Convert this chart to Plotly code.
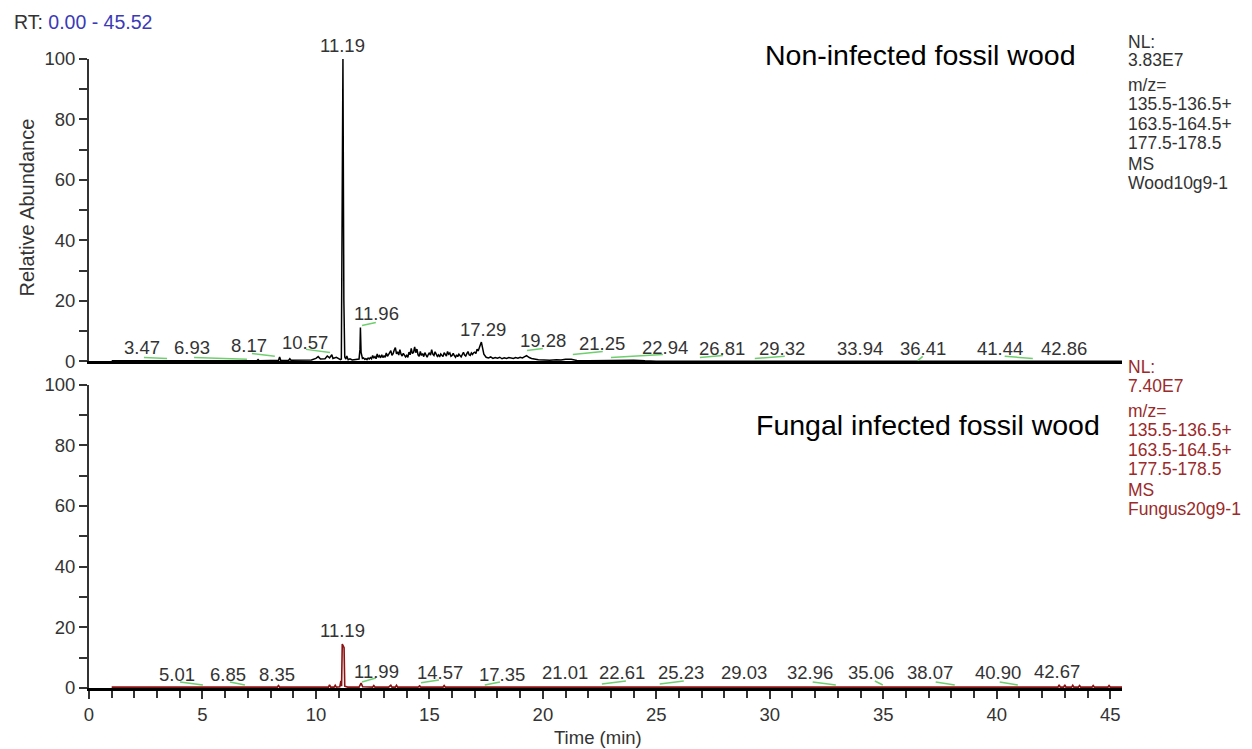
import plotly.graph_objects as go

# ---------------- data ----------------
# Non-infected fossil wood chromatogram (time in min, relative abundance %)
top_t = [1.0, 2.0, 3.0, 4.0, 5.0, 6.0, 7.0, 7.4, 7.45, 7.5,
         8.0, 8.35, 8.4, 8.45, 8.8, 8.85, 8.9, 9.2, 9.5, 9.8,
         10.0, 10.1, 10.2, 10.4, 10.5, 10.6, 10.7, 10.75, 10.9, 11.0,
         11.08, 11.12, 11.16, 11.19, 11.23, 11.27, 11.32, 11.36, 11.42, 11.5,
         11.6, 11.7, 11.8, 11.9, 11.94, 11.96, 11.99, 12.05,
         12.10, 12.15, 12.20, 12.25, 12.30, 12.35, 12.40, 12.45, 12.50, 12.55,
         12.60, 12.65, 12.70, 12.75, 12.80, 12.85, 12.90, 12.95, 13.00, 13.05,
         13.10, 13.15, 13.20, 13.25, 13.30, 13.35, 13.40, 13.45, 13.50, 13.55,
         13.60, 13.65, 13.70, 13.75, 13.80, 13.85, 13.90, 13.95, 14.00, 14.05,
         14.10, 14.15, 14.20, 14.25, 14.30, 14.35, 14.40, 14.45, 14.50, 14.55,
         14.60, 14.65, 14.70, 14.75, 14.80, 14.85, 14.90, 14.95, 15.00, 15.05,
         15.10, 15.15, 15.20, 15.25, 15.30, 15.35, 15.40, 15.45, 15.50, 15.55,
         15.60, 15.65, 15.70, 15.75, 15.80, 15.85, 15.90, 15.95, 16.00, 16.05,
         16.10, 16.15, 16.20, 16.25, 16.30, 16.35, 16.40, 16.45, 16.50, 16.55,
         16.60, 16.65, 16.70, 16.75, 16.80, 16.85, 16.90, 16.95, 17.00, 17.05,
         17.10, 17.15, 17.20, 17.25, 17.29, 17.35, 17.40,
         17.5, 17.6, 17.7, 17.8, 17.9, 18.0, 18.1, 18.2, 18.3, 18.4,
         18.5, 18.6, 18.7, 18.8, 18.9, 19.0, 19.1, 19.2, 19.28, 19.4,
         19.5, 19.8, 20.0, 20.3, 20.6, 20.8, 21.0, 21.25, 21.5, 22.0,
         23.0, 24.0, 24.5, 25.0, 30.0, 35.0, 40.0, 45.52]
top_a = [0.2, 0.2, 0.2, 0.2, 0.2, 0.2, 0.2, 0.2, 0.6, 0.2,
         0.3, 0.3, 1.5, 0.3, 0.4, 0.9, 0.4, 0.5, 0.6, 0.5,
         1.0, 1.6, 0.8, 0.9, 1.8, 1.2, 2.2, 1.0, 1.4, 0.9,
         0.6, 0.8, 60.0, 100.0, 20.5, 1.5, 0.8, 1.8, 0.6, 0.9,
         0.5, 0.6, 0.5, 0.8, 4.0, 11.2, 3.0, 1.0,
         1.2, 0.7, 0.9, 0.6, 1.1, 0.8, 1.3, 0.9, 2.0, 1.1,
         1.6, 0.9, 2.5, 1.4, 1.9, 1.2, 2.2, 1.3, 1.8, 1.4,
         2.8, 1.7, 2.3, 3.2, 3.6, 2.0, 2.6, 3.8, 4.6, 2.5,
         3.2, 2.1, 3.9, 2.4, 1.8, 2.7, 2.2, 1.5, 2.0, 1.4,
         3.1, 2.2, 4.3, 2.6, 3.0, 4.8, 2.9, 4.1, 2.2, 1.7,
         3.3, 2.0, 2.6, 1.6, 2.9, 1.8, 1.4, 2.3, 2.9, 2.1,
         3.9, 2.4, 2.0, 3.2, 2.6, 1.7, 2.2, 1.5, 2.5, 1.9,
         1.6, 2.9, 2.3, 1.8, 3.3, 2.4, 2.8, 1.7, 2.0, 2.7,
         1.9, 1.4, 2.2, 1.6, 2.4, 1.9, 1.5, 2.3, 3.0, 2.1,
         1.8, 2.6, 3.3, 2.2, 2.0, 2.8, 2.3, 2.9, 3.1, 2.6,
         4.1, 3.5, 4.9, 5.6, 6.4, 4.2, 2.4,
         1.4, 1.2, 1.5, 1.0, 1.3, 1.1, 1.4, 0.9, 1.2, 1.0,
         1.3, 1.2, 1.0, 1.3, 1.1, 1.4, 1.2, 1.6, 1.9, 1.3,
         1.0, 0.6, 0.5, 0.4, 0.6, 0.5, 0.7, 0.7, 0.3, 0.2,
         0.3, 0.4, 0.2, 0.1, 0.1, 0.1, 0.1, 0.1]

# Fungal infected fossil wood chromatogram
bot_t = [1.0, 3.0, 5.0, 7.0, 8.3, 8.35, 8.4, 10.0, 10.55, 10.6,
         10.65, 10.8, 10.85, 10.9, 11.05, 11.1, 11.13, 11.16, 11.2, 11.24,
         11.27, 11.4, 11.9, 11.99, 12.06, 12.5, 12.55, 12.6, 13.2, 13.3,
         13.35, 13.5, 13.55, 13.6, 14.5, 14.57, 14.62, 15.6, 15.65, 15.7,
         16.0, 20.0, 25.0, 30.0, 35.0, 40.0, 42.7, 42.75, 42.8, 42.95,
         43.0, 43.05, 43.3, 43.35, 43.4, 43.6, 43.65, 43.7, 44.2, 44.25,
         44.3, 44.9, 44.95, 45.0, 45.52]
bot_a = [0.3, 0.3, 0.3, 0.3, 0.3, 0.8, 0.3, 0.3, 0.3, 1.0,
         0.3, 0.3, 0.9, 0.3, 0.4, 2.3, 0.6, 14.5, 14.0, 13.3,
         0.6, 0.3, 0.3, 1.6, 0.4, 0.3, 0.8, 0.3, 0.3, 0.9,
         0.3, 0.3, 0.9, 0.3, 0.3, 0.7, 0.3, 0.3, 0.8, 0.3,
         0.3, 0.3, 0.3, 0.3, 0.3, 0.3, 0.3, 1.0, 0.3, 0.3,
         1.0, 0.3, 0.3, 0.9, 0.3, 0.3, 0.8, 0.3, 0.3, 0.8,
         0.3, 0.3, 0.8, 0.3, 0.3]

# peak labels (text, label centre time, label centre abundance)
top_labels = ["3.47", "6.93", "8.17", "10.57", "11.19", "11.96", "17.29", "19.28",
              "21.25", "22.94", "26.81", "29.32", "33.94", "36.41", "41.44", "42.86"]
top_label_t = [2.33, 4.54, 7.05, 9.52, 11.19, 12.69, 17.36, 20.0,
               22.6, 25.37, 27.89, 30.53, 33.96, 36.74, 40.13, 42.95]
top_label_a = [4.6, 4.6, 5.3, 6.3, 104.6, 15.9, 10.6, 7.0,
               6.0, 4.6, 4.3, 4.3, 4.3, 4.3, 4.3, 4.3]

bot_labels = ["5.01", "6.85", "8.35", "11.19", "11.99", "14.57", "17.35", "21.01",
              "22.61", "25.23", "29.03", "32.96", "35.06", "38.07", "40.90", "42.67"]
bot_label_t = [3.88, 6.12, 8.28, 11.19, 12.69, 15.46, 18.19, 20.97,
               23.48, 26.08, 28.85, 31.76, 34.45, 37.05, 40.04, 42.64]
bot_label_a = [4.6, 4.6, 4.6, 18.8, 5.6, 5.0, 4.6, 5.0,
               5.0, 5.0, 5.0, 5.0, 5.0, 5.0, 5.0, 5.3]

# integration baseline marks (green segments): start/end time and level
top_seg_t0 = [2.42, 4.63, 7.18, 9.56, 12.03, 19.30, 21.32, 23.00, 26.92, 29.34, 36.52, 40.35]
top_seg_t1 = [3.44, 6.96, 8.19, 10.62, 12.64, 20.00, 22.64, 25.29, 27.93, 30.66, 36.74, 41.59]
top_seg_a0 = [1.3, 1.3, 2.6, 4.0, 11.9, 3.6, 2.3, 1.3, 1.3, 1.0, 0.3, 1.7]
top_seg_a1 = [1.0, 0.7, 1.7, 3.0, 12.9, 4.3, 3.3, 2.3, 2.0, 1.7, 1.7, 1.0]

bot_seg_t0 = [4.01, 6.21, 12.03, 14.63, 17.44, 22.60, 25.15, 31.89, 34.63, 37.31, 40.13]
bot_seg_t1 = [5.02, 6.87, 12.64, 15.42, 18.11, 23.66, 26.21, 32.91, 34.98, 38.15, 40.93]
bot_seg_a0 = [2.0, 2.0, 2.0, 1.7, 1.0, 1.3, 1.3, 2.0, 2.3, 2.0, 2.0]
bot_seg_a1 = [1.0, 1.0, 3.3, 2.6, 2.0, 2.3, 2.3, 1.0, 1.0, 1.0, 1.0]

top_info = ["NL:", "3.83E7", "m/z=", "135.5-136.5+", "163.5-164.5+", "177.5-178.5", "MS", "Wood10g9-1"]
bot_info = ["NL:", "7.40E7", "m/z=", "135.5-136.5+", "163.5-164.5+", "177.5-178.5", "MS", "Fungus20g9-1"]

X_MAX = 45.52

# ---------------- figure ----------------
W, H = 1252, 749
ML, MR, MT, MB = 81, 138, 51, 69
PW, PH = W - ML - MR, H - MT - MB
FONT = "Liberation Sans, Arial, sans-serif"
GREY = "#333333"
RED = "#9b2a2a"


def ax(x):  # reference pixel -> page pixel
    return x - 8.5


def ay(y):
    return y - 8.5 + 0.0027 * y


def px(p):
    return (p - ML) / PW


def py(p):
    return (H - MB - p) / PH


top_dom = [py(ay(361)), 1.0]
bot_dom = [0.0, py(ay(384))]


def segs(t0, t1, a0, a1):
    xs, ys = [], []
    for i in range(len(t0)):
        xs += [t0[i], t1[i], None]
        ys += [a0[i], a1[i], None]
    return xs, ys


fig = go.Figure()
fig.add_trace(go.Scatter(x=top_t, y=top_a, mode="lines", line=dict(color="black", width=1.5),
                         xaxis="x", yaxis="y", showlegend=False))
fig.add_trace(go.Scatter(x=bot_t, y=bot_a, mode="lines", line=dict(color="#8b1212", width=1.6),
                         xaxis="x2", yaxis="y2", showlegend=False))
sx, sy = segs(top_seg_t0, top_seg_t1, top_seg_a0, top_seg_a1)
fig.add_trace(go.Scatter(x=sx, y=sy, mode="lines", line=dict(color="#6fcf6f", width=1.5),
                         xaxis="x", yaxis="y", showlegend=False))
sx, sy = segs(bot_seg_t0, bot_seg_t1, bot_seg_a0, bot_seg_a1)
fig.add_trace(go.Scatter(x=sx, y=sy, mode="lines", line=dict(color="#6fcf6f", width=1.5),
                         xaxis="x2", yaxis="y2", showlegend=False))

ann = []
lab_font = dict(size=18.5, color=GREY, family=FONT)
for labels, ts, avals, dom in ((top_labels, top_label_t, top_label_a, top_dom),
                               (bot_labels, bot_label_t, bot_label_a, bot_dom)):
    for txt, t, a in zip(labels, ts, avals):
        ann.append(dict(text=txt, x=t / X_MAX, y=dom[0] + (dom[1] - dom[0]) * a / 100.0,
                        xref="paper", yref="paper", showarrow=False,
                        xanchor="center", yanchor="middle", font=lab_font))

offs = [0, 18, 43, 62, 82, 101, 122, 141]
for txt, o in zip(top_info, offs):
    ann.append(dict(text=txt, x=px(ax(1126)), y=py(ay(42 + o)), xref="paper", yref="paper",
                    showarrow=False, xanchor="left", yanchor="middle",
                    font=dict(size=17.5, color=GREY, family=FONT)))
for txt, o in zip(bot_info, offs):
    ann.append(dict(text=txt, x=px(ax(1126)), y=py(ay(367 + o)), xref="paper", yref="paper",
                    showarrow=False, xanchor="left", yanchor="middle",
                    font=dict(size=17.5, color=RED, family=FONT)))

ann.append(dict(text="Non-infected fossil wood", x=px(ax(921)), y=py(ay(55)), xref="paper", yref="paper",
                showarrow=False, xanchor="center", yanchor="middle",
                font=dict(size=28.5, color="black", family=FONT)))
ann.append(dict(text="Fungal infected fossil wood", x=px(ax(928)), y=py(ay(424)), xref="paper",
                yref="paper", showarrow=False, xanchor="center", yanchor="middle",
                font=dict(size=28.5, color="black", family=FONT)))
ann.append(dict(text="RT: <span style='color:#3a3ab8'>0.00 - 45.52</span>", x=px(ax(12)), y=py(ay(22)),
                xref="paper", yref="paper", showarrow=False, xanchor="left", yanchor="middle",
                font=dict(size=19.5, color=GREY, family=FONT)))
ann.append(dict(text="Relative Abundance", x=px(ax(28)), y=py(ay(208)), xref="paper", yref="paper",
                showarrow=False, xanchor="center", yanchor="middle", textangle=-90,
                font=dict(size=20, color=GREY, family=FONT)))
ann.append(dict(text="Time (min)", x=px(ax(598)), y=py(ay(736)), xref="paper", yref="paper",
                showarrow=False, xanchor="center", yanchor="middle",
                font=dict(size=18.5, color=GREY, family=FONT)))

yax = dict(range=[0, 100], tickmode="linear", tick0=0, dtick=20, ticks="outside", ticklen=8,
           tickwidth=1.5, tickcolor=GREY, showline=True, linecolor=GREY, linewidth=2,
           showgrid=False, zeroline=False, tickfont=dict(size=18.5, color=GREY, family=FONT),
           minor=dict(dtick=10, tick0=0, ticks="outside", ticklen=8, tickwidth=1.5, tickcolor=GREY))

fig.update_layout(
    width=W, height=H,
    margin=dict(l=ML, r=MR, t=MT, b=MB, pad=0),
    paper_bgcolor="white", plot_bgcolor="white",
    showlegend=False,
    font=dict(family=FONT, color=GREY),
    xaxis=dict(domain=[0, 1], anchor="y", range=[0, X_MAX], showline=True, linecolor="black",
               linewidth=2.5, ticks="", showticklabels=False, showgrid=False, zeroline=False),
    xaxis2=dict(domain=[0, 1], anchor="y2", range=[0, X_MAX], showline=True, linecolor="black",
                linewidth=2.5, tickmode="linear", tick0=0, dtick=5, ticks="outside", ticklen=8,
                tickwidth=1.5, tickcolor=GREY, showgrid=False, zeroline=False,
                tickfont=dict(size=18.5, color=GREY, family=FONT),
                minor=dict(dtick=1, tick0=0, ticks="outside", ticklen=7, tickwidth=1.5, tickcolor=GREY)),
    yaxis=dict(domain=top_dom, anchor="x", **yax),
    yaxis2=dict(domain=bot_dom, anchor="x2", **yax),
    annotations=ann,
)

fig.write_html("out.html")
